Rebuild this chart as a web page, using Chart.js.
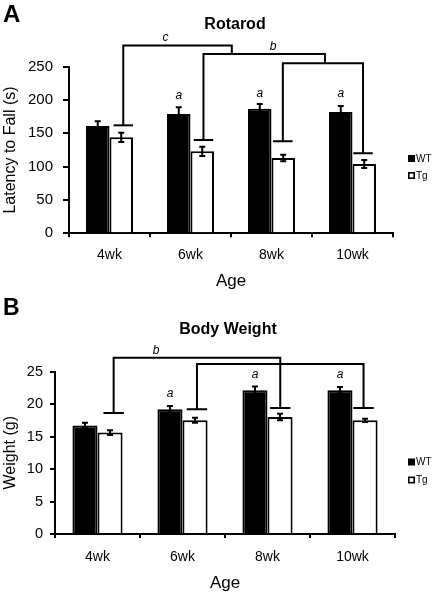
<!DOCTYPE html>
<html>
<head>
<meta charset="utf-8">
<script src="https://cdn.jsdelivr.net/npm/chart.js@4.4.1/dist/chart.umd.min.js"></script>
<style>
  html, body { margin: 0; padding: 0; background: #fff; }
  #wrap { position: relative; width: 436px; height: 596px; overflow: hidden; }
  .panel { position: absolute; left: 0; width: 436px; height: 298px; }
  #pa { top: 0; }
  #pb { top: 298px; }
</style>
</head>
<body>
<div id="wrap">
  <div class="panel" id="pa"><canvas id="ca" width="436" height="298"></canvas></div>
  <div class="panel" id="pb"><canvas id="cb" width="436" height="298"></canvas></div>
</div>
<script>
// ---------- data ----------
const ages = ['4wk', '6wk', '8wk', '10wk'];
const seriesNames = ['WT', 'Tg'];

const rotarodWT = [161, 179, 187, 182];
const rotarodWTErr = [7, 10, 7, 9];
const rotarodTg = [144, 123, 113, 104];
const rotarodTgErr = [7, 7, 5, 6];
const rotarodTicks = [0, 50, 100, 150, 200, 250];
const rotarodSig = ['', 'a', 'a', 'a'];
const rotarodSigY = [null, 207, 209, 209];
// brackets: x in category index units, y in data units
const rotarodBrackets = [
  { x1: 0.17, x2: 1.51, y: 282, y1: 162, y2: 269, cap1: true, cap2: false, label: 'c', lx: 0.69, ly: 293 },
  { x1: 1.16, x2: 2.66, y: 269, y1: 140, y2: 255, cap1: true, cap2: false, label: 'b', lx: 2.02, ly: 280 },
  { x1: 2.14, x2: 3.13, y: 255, y1: 138, y2: 120, cap1: true, cap2: true, label: '', lx: 0, ly: 0 }
];

const weightWT = [16.7, 19.2, 22.1, 22.1];
const weightWTErr = [0.4, 0.5, 0.6, 0.5];
const weightTg = [15.6, 17.5, 18.0, 17.5];
const weightTgErr = [0.35, 0.4, 0.5, 0.25];
const weightTicks = [0, 5, 10, 15, 20, 25];
const weightSig = ['', 'a', 'a', 'a'];
const weightSigY = [null, 21.6, 24.5, 24.5];
const weightBrackets = [
  { x1: 0.19, x2: 2.15, y: 27.1, y1: 18.6, y2: 19.4, cap1: true, cap2: true, label: 'b', lx: 0.69, ly: 28.15 },
  { x1: 1.17, x2: 3.13, y: 26.15, y1: 19.2, y2: 19.4, cap1: true, cap2: true, label: '', lx: 0, ly: 0 }
];

// ---------- drawing ----------
const FONT = "'Liberation Sans', Arial, Helvetica, sans-serif";
Chart.defaults.color = '#000';
Chart.defaults.font.family = FONT;

function annotPlugin(o) {
  return {
    id: 'annot' + o.panel,
    afterDatasetsDraw(chart) {
      const ctx = chart.ctx, xs = chart.scales.x, ys = chart.scales.y;
      const X = v => xs.getPixelForValue(v), Y = v => ys.getPixelForValue(v);
      ctx.save();
      ctx.strokeStyle = '#000';
      ctx.lineWidth = 2;
      // error bars
      chart.data.datasets.forEach((ds, di) => {
        const meta = chart.getDatasetMeta(di);
        meta.data.forEach((bar, i) => {
          const v = ds.data[i], e = ds.err[i];
          const x = bar.x, yt = Y(v + e), yb = Y(v - e);
          ctx.beginPath();
          ctx.moveTo(x, yt); ctx.lineTo(x, yb);
          ctx.moveTo(x - 3, yt); ctx.lineTo(x + 3, yt);
          ctx.moveTo(x - 3, yb); ctx.lineTo(x + 3, yb);
          ctx.stroke();
        });
      });
      // brackets
      const capHalf = 0.12;
      ctx.lineJoin = 'miter';
      o.brackets.forEach(b => {
        ctx.beginPath();
        ctx.moveTo(X(b.x1), Y(b.y1));
        ctx.lineTo(X(b.x1), Y(b.y));
        ctx.lineTo(X(b.x2), Y(b.y));
        ctx.lineTo(X(b.x2), Y(b.y2));
        ctx.stroke();
        ctx.beginPath();
        if (b.cap1) { ctx.moveTo(X(b.x1 - capHalf), Y(b.y1)); ctx.lineTo(X(b.x1 + capHalf), Y(b.y1)); }
        if (b.cap2) { ctx.moveTo(X(b.x2 - capHalf), Y(b.y2)); ctx.lineTo(X(b.x2 + capHalf), Y(b.y2)); }
        ctx.stroke();
        if (b.label) {
          ctx.fillStyle = '#000';
          ctx.font = 'italic 12px ' + FONT;
          ctx.textAlign = 'center';
          ctx.textBaseline = 'middle';
          ctx.fillText(b.label, X(b.lx), Y(b.ly));
        }
      });
      // significance letters over WT bars
      const wtMeta = chart.getDatasetMeta(0);
      ctx.fillStyle = '#000';
      ctx.font = 'italic 12px ' + FONT;
      ctx.textAlign = 'center';
      ctx.textBaseline = 'middle';
      o.sig.forEach((s, i) => {
        if (s) ctx.fillText(s, wtMeta.data[i].x, Y(o.sigY[i]));
      });
      ctx.restore();
    },
    afterDraw(chart) {
      const ctx = chart.ctx;
      ctx.save();
      ctx.fillStyle = '#000';
      // panel letter
      ctx.font = 'bold ' + o.letterSize + 'px ' + FONT;
      ctx.textAlign = 'left';
      ctx.textBaseline = 'alphabetic';
      ctx.fillText(o.letter, 3, o.letterBase);
      // title
      ctx.font = 'bold 16px ' + FONT;
      ctx.textAlign = 'center';
      ctx.textBaseline = 'middle';
      ctx.fillText(o.title, o.titleX, o.titleY);
      // legend
      chart.data.datasets.forEach((ds, di) => {
        const cy = o.legendY[di];
        if (di === 0) {
          ctx.fillStyle = '#000';
          ctx.fillRect(408, cy - 3.5, 7, 7);
        } else {
          ctx.fillStyle = '#fff';
          ctx.fillRect(408, cy - 3.5, 7, 7);
          ctx.strokeStyle = '#000';
          ctx.lineWidth = 1.6;
          ctx.strokeRect(408.8, cy - 2.7, 5.4, 5.4);
        }
        ctx.fillStyle = '#000';
        ctx.font = '10px ' + FONT;
        ctx.textAlign = 'left';
        ctx.textBaseline = 'middle';
        ctx.fillText(ds.label, 416, cy + 0.5);
      });
      ctx.restore();
    }
  };
}

function makeChart(canvasId, o) {
  return new Chart(document.getElementById(canvasId), {
    type: 'bar',
    data: {
      labels: ages,
      datasets: [
        { label: seriesNames[0], data: o.wt, err: o.wtErr, backgroundColor: '#000', borderColor: '#000', borderWidth: 2 },
        { label: seriesNames[1], data: o.tg, err: o.tgErr, backgroundColor: '#fff', borderColor: '#000', borderWidth: 2 }
      ]
    },
    options: {
      responsive: false,
      animation: false,
      events: [],
      layout: { padding: { top: o.padTop, right: o.padRight, left: 0, bottom: 0 } },
      datasets: { bar: { categoryPercentage: o.catPct, barPercentage: 1.0 } },
      plugins: { legend: { display: false }, title: { display: false }, tooltip: { enabled: false } },
      scales: {
        x: {
          afterFit: s => { s.height = o.xHeight; },
          grid: { display: true, drawOnChartArea: false, drawTicks: true, tickLength: 4, color: '#000', lineWidth: 2, offset: true },
          border: { display: true, color: '#000', width: 2 },
          ticks: { font: { size: 14 }, padding: o.xTickPad, color: '#000' },
          title: { display: true, text: 'Age', font: { size: 17 }, padding: { top: 0, bottom: o.xTitlePad }, color: '#000' }
        },
        y: {
          min: 0,
          max: o.ticks[o.ticks.length - 1],
          afterFit: s => { s.width = o.yWidth; },
          afterBuildTicks: s => { s.ticks = o.ticks.map(v => ({ value: v })); },
          grid: { display: true, drawOnChartArea: false, drawTicks: true, tickLength: o.yTickLen, color: '#000', lineWidth: 2 },
          border: { display: true, color: '#000', width: 2 },
          ticks: { font: { size: o.yTickSize }, padding: o.yTickPad, color: '#000' },
          title: { display: true, text: o.yTitle, font: { size: 16 }, padding: { top: o.yTitlePad, bottom: 0 }, color: '#000' }
        }
      }
    },
    plugins: [annotPlugin(o)]
  });
}

makeChart('ca', {
  panel: 'A', letter: 'A', letterSize: 24, letterBase: 21.7,
  title: 'Rotarod', titleX: 235, titleY: 25,
  wt: rotarodWT, wtErr: rotarodWTErr, tg: rotarodTg, tgErr: rotarodTgErr,
  ticks: rotarodTicks, sig: rotarodSig, sigY: rotarodSigY, brackets: rotarodBrackets,
  padTop: 66.7, padRight: 43, yWidth: 69, xHeight: 64.7, catPct: 0.58,
  yTickSize: 15, yTickLen: 6, yTickPad: 10, xTickPad: 9, xTitlePad: 6.8,
  yTitle: 'Latency to Fall (s)', yTitlePad: 1,
  legendY: [158.5, 175.5]
});

makeChart('cb', {
  panel: 'B', letter: 'B', letterSize: 23, letterBase: 17,
  title: 'Body Weight', titleX: 228, titleY: 32,
  wt: weightWT, wtErr: weightWTErr, tg: weightTg, tgErr: weightTgErr,
  ticks: weightTicks, sig: weightSig, sigY: weightSigY, brackets: weightBrackets,
  padTop: 73.5, padRight: 41, yWidth: 55, xHeight: 62, catPct: 0.59,
  yTickSize: 14.5, yTickLen: 5, yTickPad: 7, xTickPad: 10.6, xTitlePad: 2.8,
  yTitle: 'Weight (g)', yTitlePad: 1.4,
  legendY: [164, 182]
});
</script>
</body>
</html>
